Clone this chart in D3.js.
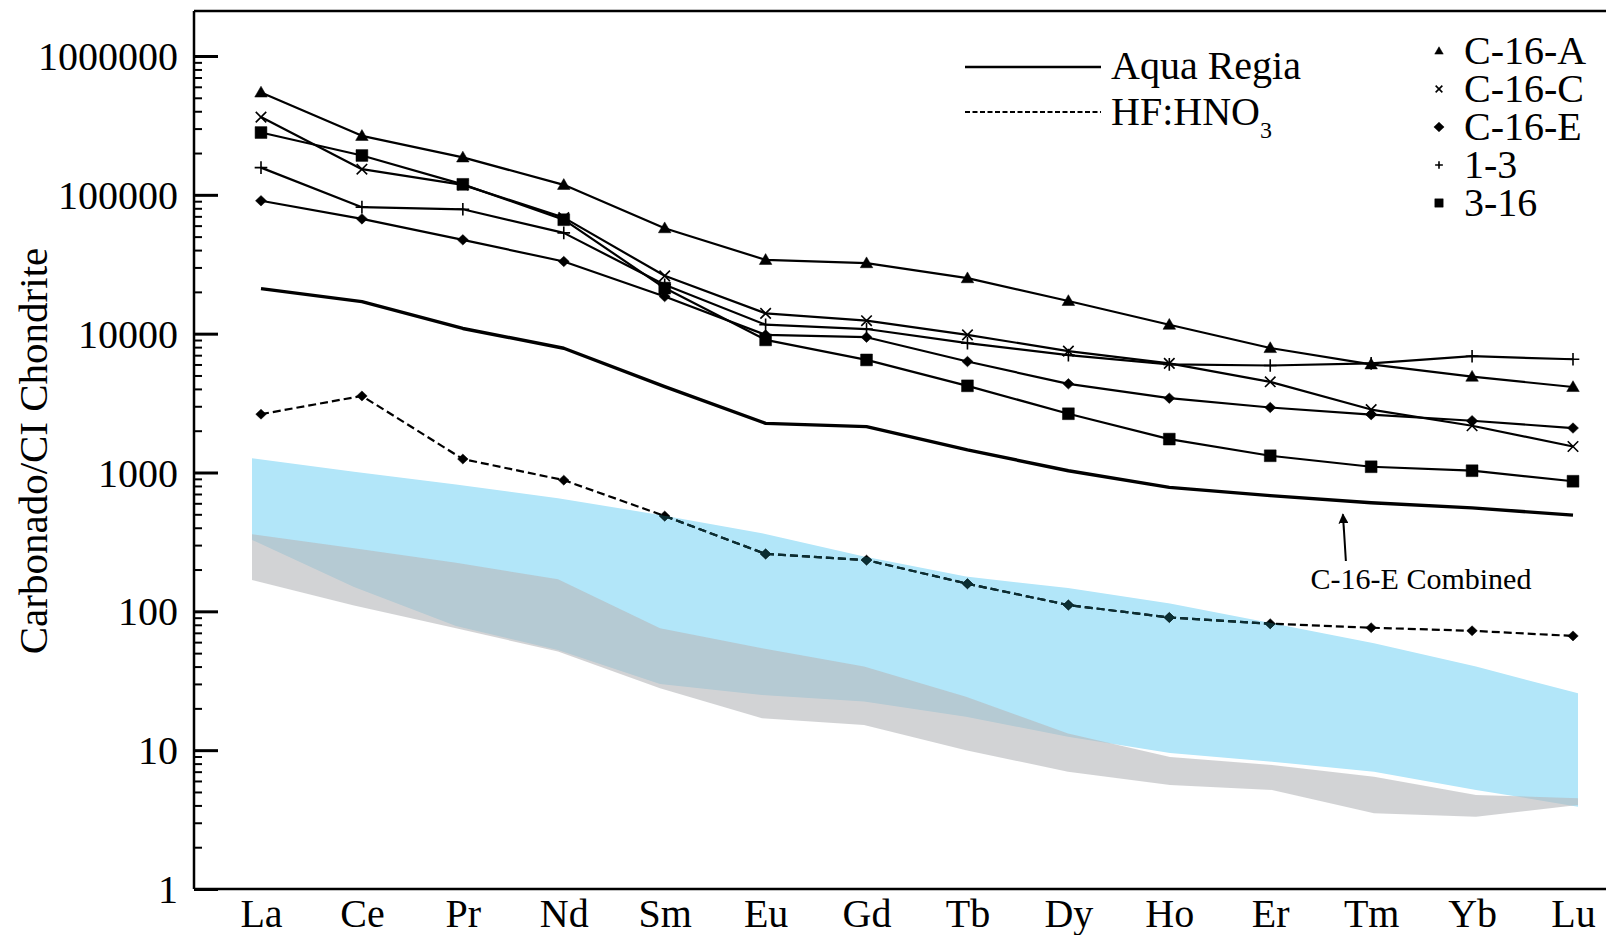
<!DOCTYPE html>
<html>
<head>
<meta charset="utf-8">
<script src="https://cdn.jsdelivr.net/npm/d3@7"></script>
<style>
  body { margin: 0; background: #fff; }
  svg { display: block; font-family: "Liberation Serif", "Times New Roman", serif; }
</style>
</head>
<body>
<div id="chart"></div>
<script>
// REE pattern, chondrite normalised
const elements = ["La","Ce","Pr","Nd","Sm","Eu","Gd","Tb","Dy","Ho","Er","Tm","Yb","Lu"];

const c16A  = [546000, 266000, 186000, 118000, 57500, 34000, 32200, 25100, 17200, 11600, 7880, 6010, 4900, 4130];
const c16C  = [363000, 153000, 118000, 68500, 26100, 14000, 12400, 9800, 7490, 6110, 4500, 2840, 2170, 1540];
const c16E  = [90600, 67100, 47400, 33100, 18500, 9800, 9430, 6300, 4350, 3430, 2940, 2610, 2360, 2090];
const s1_3  = [157000, 81500, 78700, 53200, 22500, 11600, 10800, 8540, 7000, 6010, 5900, 6110, 6880, 6540];
const s3_16 = [281000, 192000, 119000, 66200, 21300, 9020, 6470, 4210, 2650, 1740, 1320, 1100, 1030, 865];

// C-16-E combined (aqua regia) and HF:HNO3 digest
const aquaRegia = [21100, 17000, 10900, 7850, 4160, 2260, 2140, 1455, 1030, 782, 682, 606, 556, 493];
const hfHno3    = [2630, 3560, 1250, 881, 486, 259, 234, 158, 111, 90.3, 81.5, 76.2, 72.4, 66.5];

// reference fields
const blueUpper = [1268, 1013, 821, 653, 495, 365, 248, 178, 147, 114, 82, 58.9, 40, 25.7];
const blueLower = [327, 150, 78.5, 52.7, 30, 25, 22.4, 17.4, 12.5, 9.55, 8.26, 7.0, 5.17, 3.92];
const greyUpper = [359, 285, 224, 170, 75.5, 54.2, 40, 24.3, 13.2, 8.93, 7.82, 6.44, 4.76, 4.5];
const greyLower = [168, 110, 75.5, 51.3, 27.9, 17, 15.2, 10, 7.0, 5.61, 5.17, 3.51, 3.32, 4.03];

const yTicks = [1, 10, 100, 1000, 10000, 100000, 1000000];

const markerSeries = [
  {name: "C-16-A", values: c16A, shape: "triangle"},
  {name: "C-16-C", values: c16C, shape: "times"},
  {name: "C-16-E", values: c16E, shape: "diamond"},
  {name: "1-3",    values: s1_3, shape: "plus"},
  {name: "3-16",   values: s3_16, shape: "square"}
];

const W = 1606, H = 935;
const left = 194, frameTop = 11, bottom = 889;

const svg = d3.select("#chart").append("svg")
  .attr("width", W).attr("height", H);

const x = d3.scalePoint().domain(elements).range([261, 1573]);
const xBand = d3.scalePoint().domain(elements).range([252, 1578]);
const y = d3.scaleLog().domain([1, 1e6]).range([bottom, 56]);

// custom marker shapes
const shapes = {
  triangle: {draw(c, s) { const r = Math.sqrt(s) / 2; c.moveTo(0, -r * 1.1); c.lineTo(r * 1.1, r * 0.8); c.lineTo(-r * 1.1, r * 0.8); c.closePath(); }},
  square:   {draw(c, s) { const r = Math.sqrt(s) / 2; c.rect(-r, -r, 2 * r, 2 * r); }},
  diamond:  {draw(c, s) { const r = Math.sqrt(s) / 2; c.moveTo(0, -r); c.lineTo(r * 1.05, 0); c.lineTo(0, r); c.lineTo(-r * 1.05, 0); c.closePath(); }},
  times:    {draw(c, s) { const r = Math.sqrt(s) / 2; c.moveTo(-r, -r); c.lineTo(r, r); c.moveTo(r, -r); c.lineTo(-r, r); }},
  plus:     {draw(c, s) { const r = Math.sqrt(s) / 2; c.moveTo(-r, 0); c.lineTo(r, 0); c.moveTo(0, -r); c.lineTo(0, r); }}
};
const isStroke = s => s === "times" || s === "plus";
const chartSize = {triangle: 130, square: 140, diamond: 110, times: 110, plus: 160};
const legendSize = {triangle: 60, square: 70, diamond: 95, times: 45, plus: 60};

function drawMarker(sel, shape, size, color) {
  sel.attr("d", d3.symbol().type(shapes[shape]).size(size))
    .attr("fill", isStroke(shape) ? "none" : color)
    .attr("stroke", color)
    .attr("stroke-width", isStroke(shape) ? 1.6 : 0.5);
}

// bands
const bandArea = (lo, hi) => d3.area()
  .x((d, i) => xBand(elements[i]))
  .y0((d, i) => y(lo[i]))
  .y1((d, i) => y(hi[i]))(elements);

svg.append("path").attr("d", bandArea(blueLower, blueUpper)).attr("fill", "#b2e6f9");
svg.append("path").attr("d", bandArea(greyLower, greyUpper)).attr("fill", "#b6b8bb").attr("opacity", 0.62);

svg.append("clipPath").attr("id", "blueClip")
  .append("path").attr("d", bandArea(blueLower, blueUpper));

const line = d3.line()
  .x((d, i) => x(elements[i]))
  .y(d => y(d));

// HF:HNO3 dashed (black outside, dark teal where it sits on the blue field)
function drawHF(g, color) {
  g.append("path").attr("d", line(hfHno3))
    .attr("fill", "none").attr("stroke", color)
    .attr("stroke-width", 2.2).attr("stroke-dasharray", "8,4");
  g.selectAll("path.m").data(hfHno3).join("path").attr("class", "m")
    .attr("transform", (d, i) => `translate(${x(elements[i])},${y(d)})`)
    .call(drawMarker, "diamond", 100, color);
}
drawHF(svg.append("g"), "#000");
drawHF(svg.append("g").attr("clip-path", "url(#blueClip)"), "#0b2e33");

// aqua regia combined
svg.append("path").attr("d", line(aquaRegia))
  .attr("fill", "none").attr("stroke", "#000").attr("stroke-width", 3.4)
  .attr("stroke-linejoin", "round");

// sample series
markerSeries.forEach(s => {
  svg.append("path").attr("d", line(s.values))
    .attr("fill", "none").attr("stroke", "#000").attr("stroke-width", 2.2)
    .attr("stroke-linejoin", "round");
  svg.append("g").selectAll("path").data(s.values).join("path")
    .attr("transform", (d, i) => `translate(${x(elements[i])},${y(d)})`)
    .call(drawMarker, s.shape, chartSize[s.shape], "#000");
});

// frame
svg.append("line").attr("x1", left).attr("x2", W).attr("y1", frameTop).attr("y2", frameTop)
  .attr("stroke", "#000").attr("stroke-width", 2.5);
svg.append("line").attr("x1", left).attr("x2", left).attr("y1", frameTop).attr("y2", bottom)
  .attr("stroke", "#000").attr("stroke-width", 2.5);
svg.append("line").attr("x1", left).attr("x2", W).attr("y1", bottom).attr("y2", bottom)
  .attr("stroke", "#000").attr("stroke-width", 2.5);

// y axis, ticks point inwards
const yAxis = d3.axisLeft(y).tickValues(yTicks).tickFormat(d3.format("d"))
  .tickSizeInner(-24).tickSizeOuter(0).tickPadding(16);
const gy = svg.append("g").attr("transform", `translate(${left},0)`).call(yAxis);
gy.select(".domain").remove();
gy.selectAll(".tick line").attr("stroke-width", 3);
gy.selectAll(".tick text").attr("font-size", 40).attr("font-family", "Liberation Serif, serif")
  .attr("fill", "#000").attr("dy", "0.34em");

const minorTicks = [];
yTicks.slice(0, -1).forEach(d => { for (let k = 2; k < 10; k++) minorTicks.push(d * k); });
const gm = svg.append("g").attr("transform", `translate(${left},0)`)
  .call(d3.axisLeft(y).tickValues(minorTicks).tickFormat("").tickSizeInner(-8).tickSizeOuter(0));
gm.select(".domain").remove();
gm.selectAll(".tick line").attr("stroke-width", 2);

// x axis labels
const gx = svg.append("g").attr("transform", `translate(0,${bottom})`)
  .call(d3.axisBottom(x).tickSize(0));
gx.select(".domain").remove();
gx.selectAll(".tick text").attr("font-size", 40).attr("font-family", "Liberation Serif, serif")
  .attr("fill", "#000").attr("y", 38).attr("dy", 0);

// y title
svg.append("text")
  .attr("transform", "translate(47,451) rotate(-90)")
  .attr("text-anchor", "middle").attr("font-size", 41)
  .text("Carbonado/CI Chondrite");

// legend: digestion lines
svg.append("line").attr("x1", 965).attr("x2", 1101).attr("y1", 67).attr("y2", 67)
  .attr("stroke", "#000").attr("stroke-width", 2.6);
svg.append("text").attr("x", 1111).attr("y", 79).attr("font-size", 40).text("Aqua Regia");
svg.append("line").attr("x1", 965).attr("x2", 1101).attr("y1", 112).attr("y2", 112)
  .attr("stroke", "#000").attr("stroke-width", 1.8).attr("stroke-dasharray", "5,2.5");
const hf = svg.append("text").attr("x", 1111).attr("y", 125).attr("font-size", 40);
hf.append("tspan").text("HF:HNO");
hf.append("tspan").attr("font-size", 24).attr("dy", 13).text("3");

// legend: samples
const leg = svg.append("g").selectAll("g").data(markerSeries).join("g")
  .attr("transform", (d, i) => `translate(0,${64 + i * 38})`);
leg.append("path").attr("transform", "translate(1439,-13)")
  .each(function(d) { d3.select(this).call(drawMarker, d.shape, legendSize[d.shape], "#000"); });
leg.append("text").attr("x", 1464).attr("font-size", 40).text(d => d.name);

// annotation
const ax = x("Er") + 0.73 * (x("Tm") - x("Er"));
svg.append("defs").append("marker").attr("id", "arrow")
  .attr("viewBox", "0 0 10 10").attr("refX", 9).attr("refY", 5)
  .attr("markerWidth", 5).attr("markerHeight", 5).attr("orient", "auto")
  .append("path").attr("d", "M0,0L10,5L0,10Z").attr("fill", "#000");
svg.append("line").attr("x1", ax + 2).attr("y1", 561).attr("x2", ax - 1).attr("y2", y(620) + 13)
  .attr("stroke", "#000").attr("stroke-width", 2).attr("marker-end", "url(#arrow)");
svg.append("text").attr("x", 1421).attr("y", 589).attr("text-anchor", "middle")
  .attr("font-size", 30).text("C-16-E Combined");
</script>
</body>
</html>
